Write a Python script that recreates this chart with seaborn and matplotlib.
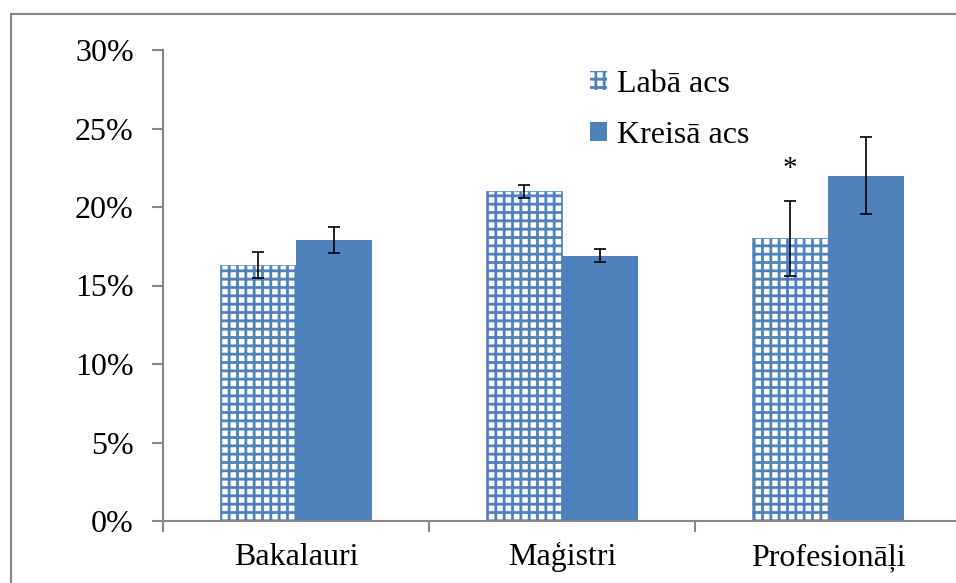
import pandas as pd
import seaborn as sns
import matplotlib.pyplot as plt
from matplotlib.patches import Patch, Rectangle
from matplotlib.ticker import PercentFormatter

# data (percent)
groups = ["Bakalauri", "Maģistri", "Profesionāļi"]
series = ["Labā acs", "Kreisā acs"]
laba = [16.3, 21.0, 18.0]
kreisa = [17.9, 16.9, 22.0]
laba_err = [0.85, 0.4, 2.4]
kreisa_err = [0.85, 0.4, 2.45]
star_group = "Profesionāļi"

blue = "#4F81BD"
gray = "#868686"

sns.set_style("white")
plt.rcParams["font.family"] = ["Liberation Serif", "DejaVu Serif"]
plt.rcParams["text.color"] = "black"
plt.rcParams["hatch.color"] = blue
plt.rcParams["hatch.linewidth"] = 2.0

df = pd.DataFrame({
    "group": groups * 2,
    "side": [series[0]] * 3 + [series[1]] * 3,
    "value": laba + kreisa,
    "err": laba_err + kreisa_err,
})

fig = plt.figure(figsize=(9.56, 5.83), dpi=100)
ax = fig.add_axes([163 / 956, 62 / 583, 798 / 956, 471 / 583])

sns.barplot(data=df, x="group", y="value", hue="side", hue_order=series,
            palette=[blue, blue], width=0.57, errorbar=None, legend=False,
            saturation=1, ax=ax)

# style bars and add error bars
for i, p in enumerate(ax.patches):
    row = df.iloc[i]
    if row["side"] == series[0]:
        p.set_facecolor("white")
        p.set_edgecolor(blue)
        p.set_hatch("++")
        p.set_linewidth(0.5)
    else:
        p.set_linewidth(0)
    cx = p.get_x() + p.get_width() / 2
    top = p.get_height()
    ax.errorbar(cx, top, yerr=row["err"], color="black", lw=1.2,
                capsize=4.5, capthick=1.2, zorder=5)
    if row["side"] == series[0] and row["group"] == star_group:
        ax.text(cx, top + row["err"] + 1.2, "*", ha="center", va="bottom",
                fontsize=21, color="black")

ax.set_ylim(0, 30)
ax.set_xlim(-0.5, 2.5)
ax.set_yticks([0, 5, 10, 15, 20, 25, 30])
ax.yaxis.set_major_formatter(PercentFormatter(decimals=0))
ax.set_xlabel("")
ax.set_ylabel("")

for s in ["top", "right"]:
    ax.spines[s].set_visible(False)
for s in ["left", "bottom"]:
    ax.spines[s].set_color(gray)
    ax.spines[s].set_linewidth(1.5)

ax.tick_params(axis="y", left=True, length=8, width=1.5, color=gray,
               labelsize=23, pad=13, labelcolor="black")
ax.tick_params(axis="x", which="major", length=0, labelsize=23, pad=32,
               labelcolor="black")
for lbl in ax.get_xticklabels():
    lbl.set_va("baseline")
ax.set_xticks([-0.5, 0.5, 1.5, 2.5], minor=True)
ax.tick_params(axis="x", which="minor", bottom=True, length=8, width=1.5,
               color=gray)

handles = [
    Patch(facecolor="white", edgecolor=blue, hatch="++", lw=0),
    Patch(facecolor=blue, lw=0),
]
fig.legend(handles, series, loc="upper left",
           bbox_to_anchor=(577 / 956, 1 - 57 / 583), frameon=False,
           fontsize=23, handlelength=0.55, handleheight=0.55,
           handletextpad=0.3, labelspacing=0.7, borderaxespad=0,
           labelcolor="black")

# outer chart border
fig.patches.append(Rectangle((11 / 956, -0.1), 1.2, (583 - 14) / 583 + 0.1,
                             transform=fig.transFigure, fill=False,
                             edgecolor=gray, lw=1.5))

fig.savefig("out.png", dpi=100)
